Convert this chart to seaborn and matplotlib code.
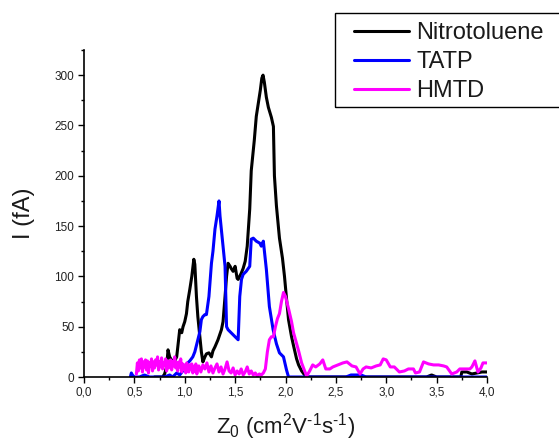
import numpy as np
import pandas as pd
import matplotlib
matplotlib.use("Agg")
import matplotlib.pyplot as plt
import seaborn as sns
from matplotlib.patches import Rectangle
from matplotlib.ticker import MultipleLocator, FuncFormatter

# ---------------- data ----------------
nitro_x = [0.70, 0.78, 0.80, 0.82, 0.834, 0.85, 0.868, 0.89, 0.92, 0.94, 0.95, 0.97, 0.983,
           1.00, 1.017, 1.03, 1.05, 1.07, 1.09, 1.10, 1.116, 1.13, 1.15, 1.165, 1.18, 1.20,
           1.215, 1.24, 1.265, 1.28, 1.30, 1.33, 1.364, 1.38, 1.40, 1.415, 1.43, 1.45, 1.46,
           1.48, 1.50, 1.52, 1.53, 1.56, 1.58, 1.60, 1.62, 1.645, 1.66, 1.69, 1.71, 1.73, 1.75,
           1.765, 1.777, 1.79, 1.81, 1.83, 1.86, 1.88, 1.89, 1.91, 1.94, 1.97, 1.99, 2.01,
           2.03, 2.06, 2.08, 2.11, 2.13, 2.16, 2.19, 2.22, 2.5, 3.0, 3.40, 3.45, 3.50, 3.74,
           3.75, 3.80, 3.85, 3.90, 3.95, 4.0]
nitro_y = [0, 0, 3, 10, 27, 20, 17, 14, 20, 38, 47, 44, 50,
           55, 63, 75, 87, 100, 117, 112, 80, 60, 40, 25, 15, 20,
           23, 24, 20, 26, 30, 37, 47, 55, 80, 100, 113, 110, 108,
           105, 110, 98, 97, 103, 108, 115, 130, 167, 205, 235, 259, 272, 285,
           297, 300, 293, 278, 268, 258, 249, 200, 170, 138, 118, 100, 78,
           57, 40, 31, 18, 12, 6, 2, 0, 0, 0, 0, 2, 0, 0,
           5, 5, 3, 4, 5, 5]

tatp_x = [0.46, 0.47, 0.48, 0.50, 0.55, 0.60, 0.65, 0.70, 0.75, 0.80, 0.85, 0.88, 0.92, 0.95,
          0.98, 1.00, 1.02, 1.05, 1.08, 1.10, 1.13, 1.15, 1.165, 1.18, 1.20, 1.215, 1.24,
          1.265, 1.28, 1.30, 1.32, 1.34, 1.35, 1.36, 1.38, 1.40, 1.415, 1.43, 1.45, 1.48,
          1.50, 1.53, 1.546, 1.563, 1.58, 1.61, 1.645, 1.66, 1.68, 1.71, 1.745, 1.76, 1.78,
          1.81, 1.84, 1.877, 1.91, 1.94, 1.96, 1.98, 2.01, 2.03, 2.1, 2.6, 2.65, 2.75, 2.8,
          3.0, 4.0]
tatp_y = [0, 4, 2, 0, 0, 2, 0, 0, 0, 0, 2, 0, 4, 2,
          6, 10, 13, 16, 20, 25, 37, 45, 57, 60, 62, 62, 80,
          113, 125, 147, 160, 175, 160, 150, 130, 110, 50, 47, 45, 42,
          40, 37, 80, 97, 102, 105, 110, 137, 138, 135, 133, 130, 135,
          107, 70, 47, 33, 24, 22, 20, 7, 0, 0, 0, 2, 2, 0,
          0, 0]

hmtd_x = [0.52, 0.53, 0.54, 0.55, 0.56, 0.57, 0.58, 0.59, 0.60, 0.61, 0.62, 0.63, 0.64, 0.65,
          0.66, 0.67, 0.68, 0.69, 0.70, 0.71, 0.72, 0.73, 0.74, 0.75, 0.76, 0.77, 0.78, 0.79,
          0.80, 0.81, 0.82, 0.83, 0.84, 0.85, 0.86, 0.87, 0.88, 0.89, 0.90, 0.91, 0.92, 0.93,
          0.94, 0.95, 0.96, 0.97, 0.98, 0.99, 1.00, 1.01, 1.02, 1.03, 1.04, 1.05, 1.06, 1.07,
          1.08, 1.09, 1.10, 1.11, 1.12, 1.13, 1.14, 1.16, 1.18, 1.20, 1.22, 1.24, 1.26, 1.28,
          1.30, 1.32, 1.34, 1.36, 1.38, 1.40, 1.42, 1.44, 1.46, 1.48, 1.50, 1.52, 1.54, 1.56,
          1.58, 1.60, 1.62, 1.64, 1.66, 1.68, 1.70, 1.72, 1.74, 1.76, 1.78, 1.80, 1.82, 1.84,
          1.86, 1.88, 1.90, 1.92, 1.94, 1.96, 1.98, 2.00, 2.03, 2.06, 2.08, 2.11, 2.13, 2.16,
          2.19, 2.21, 2.24, 2.27, 2.30, 2.34, 2.37, 2.40, 2.44, 2.47, 2.52, 2.57, 2.61, 2.66,
          2.70, 2.74, 2.77, 2.80, 2.85, 2.90, 2.94, 2.97, 3.00, 3.04, 3.08, 3.13, 3.18, 3.22,
          3.27, 3.29, 3.33, 3.37, 3.42, 3.47, 3.52, 3.57, 3.60, 3.65, 3.70, 3.73, 3.78, 3.83,
          3.85, 3.88, 3.91, 3.94, 3.96, 4.00]
hmtd_y = [3, 14, 6, 17, 9, 18, 5, 15, 10, 17, 7, 16, 4, 14,
          11, 18, 6, 15, 9, 17, 12, 20, 7, 15, 10, 19, 8, 14,
          12, 18, 6, 16, 9, 13, 17, 7, 15, 11, 20, 9, 14, 6,
          15, 10, 18, 5, 13, 8, 12, 4, 14, 9, 5, 12, 8, 13,
          4, 10, 6, 13, 3, 9, 11, 5, 12, 8, 14, 5, 11, 4,
          9, 13, 5, 10, 3, 8, 15, 6, 4, 9, 2, 6, 3, 8,
          2, 5, 10, 3, 6, 2, 4, 1, 3, 2, 4, 8, 25, 37,
          40, 40, 50, 58, 63, 75, 84, 80, 68, 55, 44, 33, 26, 14,
          6, 1, 6, 12, 10, 13, 17, 8, 8, 10, 12, 14, 15, 11,
          10, 3, 8, 10, 9, 11, 12, 18, 17, 10, 10, 5, 6, 8,
          8, 4, 5, 15, 13, 12, 12, 11, 10, 3, 5, 8, 8, 8,
          10, 16, 5, 9, 14, 14]

series_names = ["Nitrotoluene", "TATP", "HMTD"]
series_colors = ["#000000", "#0000ff", "#ff00ff"]
x_label = r"Z$_0$ (cm$^2$V$^{\text{-1}}$s$^{\text{-1}}$)"
y_label = "I (fA)"

df = pd.concat([
    pd.DataFrame({"x": nitro_x, "y": nitro_y, "series": series_names[0]}),
    pd.DataFrame({"x": tatp_x, "y": tatp_y, "series": series_names[1]}),
    pd.DataFrame({"x": hmtd_x, "y": hmtd_y, "series": series_names[2]}),
], ignore_index=True)

# ---------------- style ----------------
sns.set_style("ticks")
plt.rcParams["font.family"] = ["Liberation Sans", "DejaVu Sans"]
plt.rcParams["mathtext.fontset"] = "custom"
plt.rcParams["mathtext.rm"] = "Liberation Sans"
plt.rcParams["mathtext.it"] = "Liberation Sans"
plt.rcParams["mathtext.default"] = "regular"
plt.rcParams["text.color"] = "#1a1a1a"
plt.rcParams["axes.labelcolor"] = "#1a1a1a"

W, H = 559, 444
fig = plt.figure(figsize=(W / 100, H / 100), dpi=100)
ax = fig.add_axes([84 / W, 1 - 377 / H, (487 - 84) / W, (377 - 50) / H])

sns.lineplot(data=df, x="x", y="y", hue="series", hue_order=series_names,
             palette=dict(zip(series_names, series_colors)), estimator=None,
             linewidth=2.2, ax=ax, legend=False)

ax.set_xlim(0, 4)
ax.set_ylim(0, 325)
sns.despine(ax=ax)
for s in ("left", "bottom"):
    ax.spines[s].set_linewidth(1.2)
    ax.spines[s].set_color("black")

ax.xaxis.set_major_locator(MultipleLocator(0.5))
ax.xaxis.set_minor_locator(MultipleLocator(0.25))
ax.yaxis.set_major_locator(MultipleLocator(50))
ax.yaxis.set_minor_locator(MultipleLocator(25))
ax.xaxis.set_major_formatter(FuncFormatter(lambda v, p: f"{v:.1f}".replace(".", ",")))
ax.yaxis.set_major_formatter(FuncFormatter(lambda v, p: f"{v:.0f}"))
ax.tick_params(which="major", direction="out", length=4, width=1, labelsize=8.5,
               color="black", labelcolor="#222222", pad=3)
ax.tick_params(which="minor", direction="out", length=2.3, width=1, color="black")
ax.tick_params(axis="y", which="both", left=True)
ax.tick_params(axis="x", which="both", bottom=True)

ax.set_xlabel(x_label, fontsize=16, labelpad=9)
ax.set_ylabel(y_label, fontsize=17, labelpad=14)

# legend
handles = [plt.Line2D([], [], color=c, linewidth=2.2) for c in series_colors]
leg = fig.legend(handles, series_names, loc="upper left",
                 bbox_to_anchor=(354 / W, 1 - 22 / H), bbox_transform=fig.transFigure,
                 frameon=False, fontsize=17, handlelength=2.33, handletextpad=0.32,
                 labelspacing=0.3, borderpad=0.0, borderaxespad=0.0)
fig.add_artist(Rectangle((335 / W, 1 - 106.7 / H), 1.0, (106.7 - 12.7) / H,
                         transform=fig.transFigure, fill=False, edgecolor="black",
                         linewidth=1.0, clip_on=False))

fig.savefig("out.png", dpi=100)
